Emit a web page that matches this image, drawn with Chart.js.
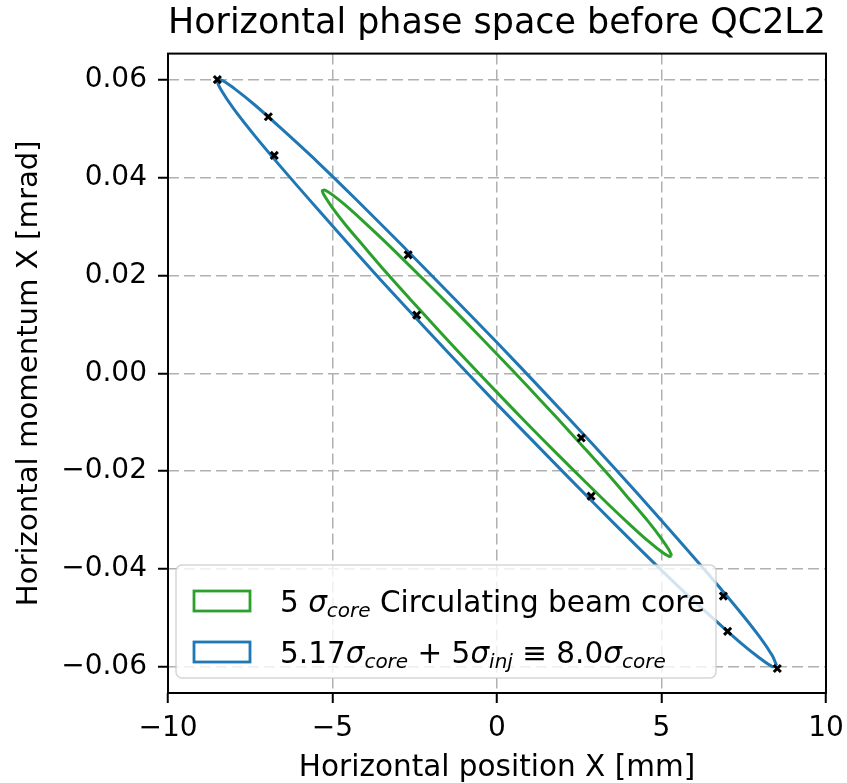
<!DOCTYPE html>
<html>
<head>
<meta charset="utf-8">
<title>Horizontal phase space before QC2L2</title>
<script src="https://cdn.jsdelivr.net/npm/chart.js@4"></script>
<style>
  html, body { margin: 0; padding: 0; background: #fff; }
</style>
</head>
<body>
<canvas id="phaseChart" width="847" height="783"></canvas>
<script>
// outer ellipse: 5.17 sigma_core + 5 sigma_inj
const blueX = [8.50, 8.37, 7.99, 7.36, 6.51, 5.46, 4.25, 2.91, 1.48, 0.00, -1.48, -2.91, -4.25, -5.46, -6.51, -7.36, -7.99, -8.37,
  -8.50, -8.37, -7.99, -7.36, -6.51, -5.46, -4.25, -2.91, -1.48, 0.00, 1.48, 2.91, 4.25, 5.46, 6.51, 7.36, 7.99, 8.37, 8.50];
const blueY = [-0.0597, -0.0599, -0.0582, -0.0548, -0.0497, -0.0432, -0.0353, -0.0263, -0.0165, -0.0063, 0.0042, 0.0145, 0.0244, 0.0336, 0.0417, 0.0485, 0.0539, 0.0577,
  0.0597, 0.0599, 0.0582, 0.0548, 0.0497, 0.0432, 0.0353, 0.0263, 0.0165, 0.0063, -0.0042, -0.0145, -0.0244, -0.0336, -0.0417, -0.0485, -0.0539, -0.0577, -0.0597];

// inner ellipse: 5 sigma_core circulating beam core
const greenX = [5.31, 5.23, 4.99, 4.60, 4.07, 3.42, 2.66, 1.82, 0.92, 0.00, -0.92, -1.82, -2.66, -3.42, -4.07, -4.60, -4.99, -5.23,
  -5.31, -5.23, -4.99, -4.60, -4.07, -3.42, -2.66, -1.82, -0.92, 0.00, 0.92, 1.82, 2.66, 3.42, 4.07, 4.60, 4.99, 5.23, 5.31];
const greenY = [-0.0373, -0.0374, -0.0364, -0.0343, -0.0311, -0.0270, -0.0220, -0.0164, -0.0103, -0.0039, 0.0026, 0.0091, 0.0153, 0.0210, 0.0261, 0.0303, 0.0337, 0.0361,
  0.0373, 0.0374, 0.0364, 0.0343, 0.0311, 0.0270, 0.0220, 0.0164, 0.0103, 0.0039, -0.0026, -0.0091, -0.0153, -0.0210, -0.0261, -0.0303, -0.0337, -0.0361, -0.0373];

// black x markers
const markX = [-8.50, -6.95, -6.77, -2.70, -2.44, 2.56, 2.86, 6.88, 7.01, 8.52];
const markY = [0.0600, 0.0524, 0.0445, 0.0242, 0.0119, -0.0132, -0.0251, -0.0455, -0.0527, -0.0603];

const xTicks = [-10, -5, 0, 5, 10];
const xTickLabels = ['−10', '−5', '0', '5', '10'];
const yTicks = [-0.06, -0.04, -0.02, 0, 0.02, 0.04, 0.06];
const yTickLabels = ['−0.06', '−0.04', '−0.02', '0.00', '0.02', '0.04', '0.06'];

const blueColor = '#1f77b4';
const greenColor = '#2ca02c';
const fontFamily = '"DejaVu Sans", "Liberation Sans", sans-serif';

const toPoints = (xs, ys) => xs.map((x, i) => ({x: x, y: ys[i]}));

// legend entries, each part is [text, style] (n = normal, i = italic, s = italic subscript)
const legendRows = [
  {color: greenColor, parts: [['5 ', 'n'], ['σ', 'i'], ['core', 's'], [' Circulating beam core', 'n']]},
  {color: blueColor, parts: [['5.17', 'n'], ['σ', 'i'], ['core', 's'], [' + 5', 'n'], ['σ', 'i'], ['inj', 's'], [' ≡ 8.0', 'n'], ['σ', 'i'], ['core', 's']]},
];

// frame round the axes + math legend
const framePlugin = {
  id: 'frameAndLegend',
  afterDatasetsDraw(chart) {
    const {ctx, chartArea} = chart;
    ctx.save();
    ctx.strokeStyle = '#000';
    ctx.lineWidth = 2;
    ctx.strokeRect(chartArea.left, chartArea.top, chartArea.right - chartArea.left, chartArea.bottom - chartArea.top);

    // legend box
    const bx = chartArea.left + 8, by = chartArea.bottom - 128;
    const bw = 540, bh = 113, r = 6;
    ctx.beginPath();
    ctx.moveTo(bx + r, by);
    ctx.arcTo(bx + bw, by, bx + bw, by + bh, r);
    ctx.arcTo(bx + bw, by + bh, bx, by + bh, r);
    ctx.arcTo(bx, by + bh, bx, by, r);
    ctx.arcTo(bx, by, bx + bw, by, r);
    ctx.closePath();
    ctx.fillStyle = 'rgba(255,255,255,0.8)';
    ctx.fill();
    ctx.strokeStyle = 'rgba(204,204,204,0.8)';
    ctx.lineWidth = 1.5;
    ctx.stroke();

    const fonts = {
      n: 'normal 29.5px ' + fontFamily,
      i: 'italic 29.5px ' + fontFamily,
      s: 'italic 20px ' + fontFamily,
    };
    legendRows.forEach((row, k) => {
      const cy = by + 36 + k * 51;
      ctx.strokeStyle = row.color;
      ctx.lineWidth = 2.8;
      ctx.strokeRect(bx + 18, cy - 10, 56, 20);
      let x = bx + 104;
      ctx.fillStyle = '#000';
      ctx.textBaseline = 'alphabetic';
      ctx.textAlign = 'left';
      const base = cy + 11;
      row.parts.forEach(([text, style]) => {
        ctx.font = fonts[style];
        ctx.fillText(text, x, style === 's' ? base + 5 : base);
        x += ctx.measureText(text).width;
      });
    });
    ctx.restore();
  }
};

new Chart(document.getElementById('phaseChart'), {
  type: 'scatter',
  data: {
    datasets: [
      {
        label: 'markers',
        data: toPoints(markX, markY),
        pointStyle: 'crossRot',
        pointRadius: 5,
        pointBorderWidth: 3,
        borderColor: '#000',
        backgroundColor: '#000',
        showLine: false,
      },
      {
        label: '5 σcore Circulating beam core',
        data: toPoints(greenX, greenY),
        showLine: true,
        borderColor: greenColor,
        borderWidth: 3,
        pointRadius: 0,
        tension: 0.3,
        fill: false,
      },
      {
        label: '5.17σcore + 5σinj ≡ 8.0σcore',
        data: toPoints(blueX, blueY),
        showLine: true,
        borderColor: blueColor,
        borderWidth: 3,
        pointRadius: 0,
        tension: 0.3,
        fill: false,
      },
    ],
  },
  options: {
    responsive: false,
    animation: false,
    layout: {padding: {left: 0, right: 21, top: 0, bottom: 0}},
    plugins: {
      legend: {display: false},
      tooltip: {enabled: false},
      title: {
        display: true,
        text: 'Horizontal phase space before QC2L2',
        fullSize: false,
        color: '#000',
        font: {family: fontFamily, size: 35.5, weight: 'normal'},
        padding: {top: 2, bottom: 9},
      },
    },
    scales: {
      x: {
        type: 'linear',
        min: -10,
        max: 10,
        afterBuildTicks: (scale) => { scale.ticks = xTicks.map(v => ({value: v})); },
        afterFit: (scale) => {
          scale.height = 90;
          scale.paddingLeft = 0;
          scale.paddingRight = 0;
        },
        ticks: {
          callback: (v, i) => xTickLabels[i],
          color: '#000',
          font: {family: fontFamily, size: 28},
          padding: 9,
          maxRotation: 0,
        },
        grid: {color: '#b0b0b0', lineWidth: 1.5, tickLength: 10, tickColor: '#000', tickWidth: 2},
        border: {display: false, dash: [11, 5]},
        title: {
          display: true,
          text: 'Horizontal position X [mm]',
          color: '#000',
          font: {family: fontFamily, size: 29.5},
          padding: {top: 0, bottom: -3},
        },
      },
      y: {
        type: 'linear',
        min: -0.0653,
        max: 0.0653,
        afterBuildTicks: (scale) => { scale.ticks = yTicks.map(v => ({value: v})); },
        afterFit: (scale) => {
          scale.width = 168;
          scale.paddingTop = 0;
          scale.paddingBottom = 0;
        },
        ticks: {
          callback: (v, i) => yTickLabels[i],
          color: '#000',
          font: {family: fontFamily, size: 28},
          padding: 11,
        },
        grid: {color: '#b0b0b0', lineWidth: 1.5, tickLength: 10, tickColor: '#000', tickWidth: 2},
        border: {display: false, dash: [11, 5]},
        title: {
          display: true,
          text: 'Horizontal momentum X [mrad]',
          color: '#000',
          font: {family: fontFamily, size: 29.2},
          padding: {top: 12, bottom: 0},
        },
      },
    },
  },
  plugins: [framePlugin],
});
</script>
</body>
</html>
